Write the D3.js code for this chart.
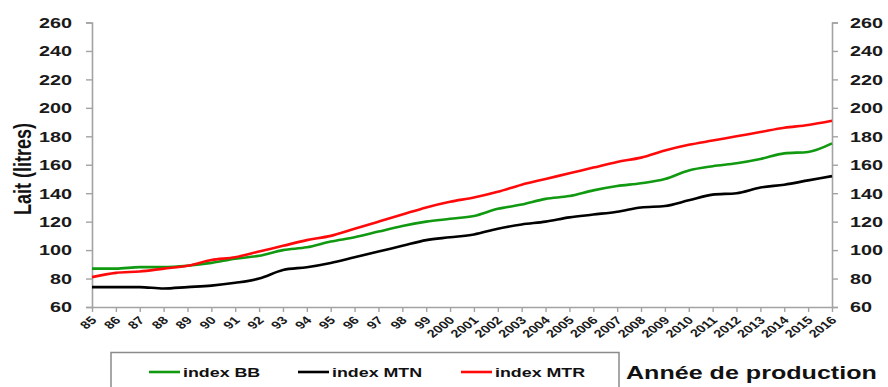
<!DOCTYPE html>
<html>
<head>
<meta charset="utf-8">
<script src="https://cdn.jsdelivr.net/npm/d3@7"></script>
<style>
  html, body { margin: 0; padding: 0; background: #fff; }
  svg { display: block; font-family: "Liberation Sans", Arial, sans-serif; }
</style>
</head>
<body>
<svg id="chart" width="888" height="387"></svg>
<script>
// Production years (two-digit before 2000)
const years = ["85","86","87","88","89","90","91","92","93","94","95","96","97","98","99",
  "2000","2001","2002","2003","2004","2005","2006","2007","2008","2009","2010",
  "2011","2012","2013","2014","2015","2016"];

// Milk yield indices (litres)
const indexBB  = [87,87,88,88,89,91,94,96,100,102,106,109,113,117,120,122,124,129,132,136,138,142,145,147,150,156,159,161,164,168,169,175];
const indexMTN = [74,74,74,73,74,75,77,80,86,88,91,95,99,103,107,109,111,115,118,120,123,125,127,130,131,135,139,140,144,146,149,152];
const indexMTR = [81,84,85,87,89,93,95,99,103,107,110,115,120,125,130,134,137,141,146,150,154,158,162,165,170,174,177,180,183,186,188,191];

const yTicks = [60,80,100,120,140,160,180,200,220,240,260];

const seriesNames  = ["index BB", "index MTN", "index MTR"];
const seriesValues = [indexBB, indexMTN, indexMTR];
const seriesColors = ["#119a11", "#000000", "#ff0a0a"];

const svg = d3.select("#chart");
const axisColor = "#a3a3a3";
const STRETCH = 1.32;

const x = d3.scalePoint().domain(years).range([92, 832]);
const y = d3.scaleLinear().domain([60, 260]).range([307, 22.5]);

// Left axis
const gL = svg.append("g").attr("transform", "translate(92,0)")
  .call(d3.axisLeft(y).tickValues(yTicks).tickSize(6).tickPadding(14).tickFormat(d3.format("d")));
// Right axis
const gR = svg.append("g").attr("transform", "translate(832,0)")
  .call(d3.axisRight(y).tickValues(yTicks).tickSize(6).tickPadding(12).tickFormat(d3.format("d")));
// Bottom axis
const gB = svg.append("g").attr("transform", "translate(0,307)")
  .call(d3.axisBottom(x).tickSize(5).tickSizeOuter(0));

[gL, gR, gB].forEach(g => {
  g.select(".domain").attr("stroke", axisColor).attr("stroke-width", 1.6);
  g.selectAll(".tick line").attr("stroke", axisColor).attr("stroke-width", 1.4);
});
[gL, gR].forEach(g => {
  g.selectAll(".tick text")
    .attr("class", "stretch")
    .attr("fill", "#1a1a1a")
    .style("font-size", "15px")
    .style("font-weight", "bold");
});
gB.selectAll(".tick text")
  .attr("fill", "#1a1a1a")
  .style("font-size", "11px")
  .style("font-weight", "bold")
  .style("text-anchor", "end")
  .attr("dy", null)
  .attr("y", 0)
  .attr("x", 0)
  .attr("transform", `translate(5,14) scale(${STRETCH},1) rotate(-45)`);

// Series lines
const line = d3.line()
  .x((d, i) => x(years[i]))
  .y(d => y(d))
  .curve(d3.curveMonotoneX);

seriesValues.forEach((vals, k) => {
  svg.append("path")
    .datum(vals)
    .attr("fill", "none")
    .attr("stroke", seriesColors[k])
    .attr("stroke-width", 2.6)
    .attr("stroke-linejoin", "round")
    .attr("d", line);
});

// Y axis title
svg.append("text")
  .attr("transform", `translate(31,169) scale(${STRETCH},1) rotate(-90)`)
  .attr("text-anchor", "middle")
  .attr("fill", "#111")
  .style("font-size", "18px")
  .style("font-weight", "bold")
  .text("Lait (litres)");

// Legend box (runs past the bottom edge)
svg.append("rect")
  .attr("x", 111).attr("y", 352.5)
  .attr("width", 508).attr("height", 60)
  .attr("fill", "#fff")
  .attr("stroke", "#8a8a8a")
  .attr("stroke-width", 1.5);

const legendX = [149, 298, 461];
seriesNames.forEach((name, k) => {
  const lx = legendX[k];
  svg.append("line")
    .attr("x1", lx).attr("x2", lx + 31)
    .attr("y1", 372).attr("y2", 372)
    .attr("stroke", seriesColors[k])
    .attr("stroke-width", 2.6);
  svg.append("text")
    .attr("class", "stretch")
    .attr("x", lx + 34).attr("y", 377)
    .attr("fill", "#111")
    .style("font-size", "13.5px")
    .style("font-weight", "bold")
    .text(name);
});

// X axis title
svg.append("text")
  .attr("class", "stretch")
  .attr("x", 626).attr("y", 379)
  .attr("fill", "#111")
  .style("font-size", "19px")
  .style("font-weight", "bold")
  .text("Année de production");

// Widen labels horizontally
svg.selectAll("text.stretch").each(function () {
  const len = this.getComputedTextLength();
  d3.select(this).attr("textLength", len * STRETCH).attr("lengthAdjust", "spacingAndGlyphs");
});
</script>
</body>
</html>
